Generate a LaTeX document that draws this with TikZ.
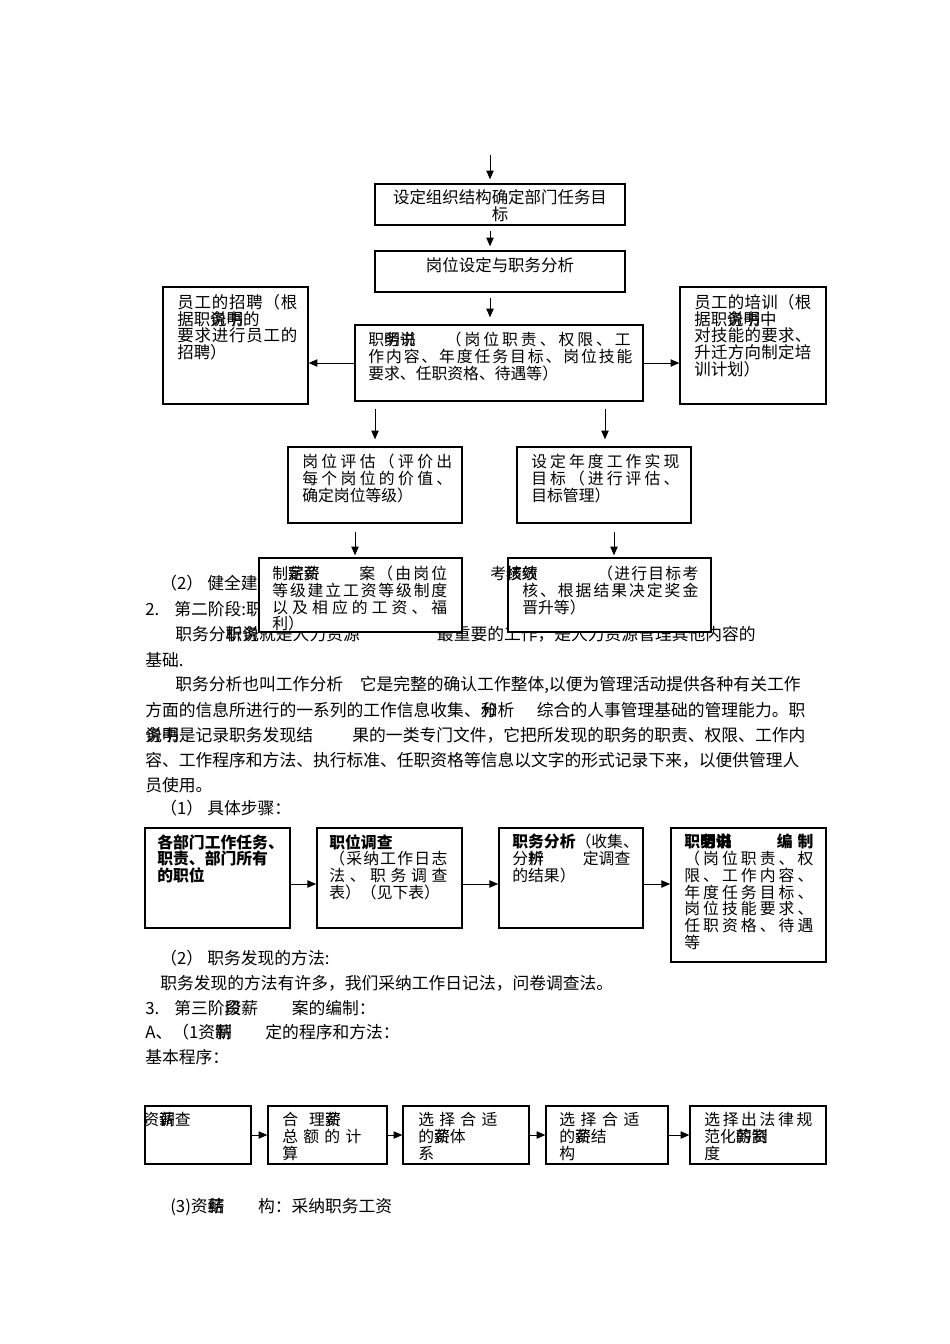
\documentclass[tikz,border=0pt]{standalone}
\usepackage{fontspec}
\setmainfont{Noto Sans CJK SC}
\usepackage{xcolor}
\usetikzlibrary{arrows.meta, calc}
\newlength{\px}
\setlength{\px}{0.626pt}
\newcommand{\ov}[2]{\makebox[0pt][l]{#1}#2}
\ExplSyntaxOn
\NewDocumentCommand{\jst}{mm}{\makebox[#1\px][s]{\tl_map_inline:nn{#2}{##1\hfil}\unskip}}
\ExplSyntaxOff
\newcommand{\bodyfont}{\fontsize{10.5}{15}\selectfont}
\newcommand{\boxfont}{\fontsize{9.9}{10.45}\selectfont}
\newcommand{\bigboxfont}{\fontsize{10.3}{10.45}\selectfont}

\begin{document}
\begin{tikzpicture}[x=0.626pt, y=-0.626pt,
    box/.style={draw, line width=0.8pt, fill=white, inner sep=0pt},
    stepbox/.style={draw, line width=1pt, fill=white, inner sep=0pt},
    boxtext/.style={anchor=north west, inner sep=0pt, align=left, font=\boxfont},
    bodytext/.style={anchor=west, inner sep=0pt, font=\bodyfont},
    arrow/.style={-{Triangle[length=5.5pt,width=4.6pt]}, line width=0.6pt}]
    \useasboundingbox (0,0) rectangle (950,1344);

    % Body text (drawn first, the boxes cover part of it)
    \node[bodytext] (t1) at (160,583) {（2）\hspace{0.25em}健全建立};
    \node[bodytext] (t2) at (145,609) {2.\hspace{0.9em}第二阶段:职};
    \node[bodytext] (t3) at (175,634) {职务分\ov{析}{职}\ov{务}{说}就是人力资源\hspace{4.6em}最重要的工作，是人力资源管理其他内容的};
    \node[bodytext] (t4) at (145,660) {基础.};
    \node[bodytext] (t5) at (175,685) {职务分析也叫工作分析\hspace{1em}它是完整的确认工作整体,以便为管理活动提供各种有关工作};
    \node[bodytext] (t6) at (145,710) {\makebox[660\px][s]{方面的信息所进行的一系列的工作信息收集、\ov{分}{和}析\hfil 综合的人事管理基础的管理能力。职}};
    \node[bodytext] (t7) at (145,735) {\makebox[660\px][s]{\ov{务}{说}\ov{明}{书}是记录职务发现结\hfil 果的一类专门文件，它把所发现的职务的职责、权限、工作内}};
    \node[bodytext] (t8) at (145,760) {容、工作程序和方法、执行标准、任职资格等信息以文字的形式记录下来，以便供管理人};
    \node[bodytext] (t9) at (145,785) {员使用。};
    \node[bodytext] (t10) at (160,808) {（1）\hspace{0.25em}具体步骤：};
    \node[bodytext] (t11) at (160,958) {（2）\hspace{0.25em}职务发现的方法:};
    \node[bodytext] (t12) at (160,983) {职务发现的方法有许多，我们采纳工作日记法，问卷调查法。};
    \node[bodytext] (t13) at (145,1008) {3.\hspace{0.9em}第三阶\ov{段}{资}薪\hspace{2em}案的编制：};
    \node[bodytext] (t14) at (145,1032) {A、（1资\ov{薪}{制}\hspace{2em}定的程序和方法：};
    \node[bodytext] (t15) at (145,1057) {基本程序：};
    \node[bodytext] (t16) at (170,1207) {(3)资\ov{薪}{结}\hspace{2em}构：采纳职务工资};

    % Organisation chart
    \node[box, minimum width=250\px, minimum height=41\px] (b1) at (500,204.5) {};
    \node[box, minimum width=250\px, minimum height=41\px] (b2) at (500,271.5) {};
    \node[box, minimum width=288\px, minimum height=76\px] (b3) at (499,363) {};
    \node[box, minimum width=145\px, minimum height=117\px] (bl) at (235.5,345.5) {};
    \node[box, minimum width=146\px, minimum height=117\px] (br) at (753,345.5) {};
    \node[box, minimum width=174\px, minimum height=76\px] (b4) at (375,485) {};
    \node[box, minimum width=174\px, minimum height=76\px] (b5) at (604,485) {};
    \node[box, minimum width=203\px, minimum height=74\px] (b6) at (360.5,595) {};
    \node[box, minimum width=203\px, minimum height=74\px] (b7) at (609.5,595) {};

    \node[inner sep=0pt, align=center, font=\bigboxfont] (b1t) at (500,206) {设定组织结构确定部门任务目\\标};
    \node[inner sep=0pt, font=\bigboxfont] (b2t) at (500,265) {岗位设定与职务分析};
    \node[boxtext] (b3t) at (368,332) {职\ov{务}{明}\ov{说}{书}\hspace{1.9em}\jst{185}{（岗位职责、权限、工}\\
        \jst{264}{作内容、年度任务目标、岗位技能}\\要求、任职资格、待遇等）};
    \node[boxtext, font=\bigboxfont] (blt) at (177,294) {\jst{120}{员工的招聘（根}\\据职\ov{务}{说}\ov{明}{书}的\\
        \jst{120}{要求进行员工的}\\招聘）};
    \node[boxtext, font=\bigboxfont] (brt) at (694,294) {\jst{117}{员工的培训（根}\\据职\ov{务}{说}\ov{明}{书}中\\
        \jst{117}{对技能的要求、}\\\jst{117}{升迁方向制定培}\\训计划）};
    \node[boxtext] (b4t) at (302,454) {\jst{150}{岗位评估（评价出}\\\jst{150}{每个岗位的价值、}\\确定岗位等级）};
    \node[boxtext] (b5t) at (531,454) {\jst{148}{设定年度工作实现}\\\jst{148}{目标（进行评估、}\\目标管理）};
    \node[boxtext] (b6t) at (272,566) {\makebox[87\px][l]{制\ov{定}{薪}\ov{薪}{资}}\jst{88}{案（由岗位}\\
        \jst{175}{等级建立工资等级制度}\\\jst{175}{以及相应的工资、福}\\利）};
    \node[boxtext] (b7t) at (522,566) {\hspace*{-32\px}\makebox[107\px][l]{考\ov{核}{绩}\ov{绩}{效}}\jst{101}{（进行目标考}\\
        \jst{176}{核、根据结果决定奖金}\\晋升等）};

    \coordinate (top) at (490,155);
    \draw[arrow] (top) -- ($(top |- b1.north)+(0,-4)$);
    \draw[arrow] ($(b1.south -| top)+(0,5)$) -- ($(b2.north -| top)+(0,-4)$);
    \draw[arrow] ($(b2.south -| top)+(0,5)$) -- ($(b3.north -| top)+(0,-7)$);
    \draw[arrow] (b3.west) -- (b3.west -| bl.east);
    \draw[arrow] (b3.east) -- (b3.east -| br.west);
    \draw[arrow] ($(b3.south -| b4.north)+(0,7)$) -- ($(b4.north)+(0,-7)$);
    \draw[arrow] ($(b3.south -| b5.north)+(1,7)$) -- ($(b5.north)+(1,-7)$);
    \draw[arrow] ($(b4.south)+(-20,8)$) -- ($(b4.south |- b6.north)+(-20,-2)$);
    \draw[arrow] ($(b5.south)+(10,8)$) -- ($(b5.south |- b7.north)+(10,-2)$);

    % Steps of job analysis
    \node[stepbox, minimum width=145\px, minimum height=100\px] (sA) at (217.5,878) {};
    \node[stepbox, minimum width=145\px, minimum height=100\px] (sB) at (389.5,878) {};
    \node[stepbox, minimum width=144\px, minimum height=100\px] (sC) at (571,878) {};
    \node[stepbox, minimum width=155\px, minimum height=134\px] (sD) at (748.5,895) {};

    \node[boxtext, font=\boxfont\bfseries] (sAt) at (157,834) {各部门工作任务、\\职责、部门所有\\的职位};
    \node[boxtext] (sBt) at (329,834) {\textbf{职位调查}\\\jst{118}{（采纳工作日志}\\\jst{118}{法、职务调查}\\表）（见下表）};
    \node[boxtext] (sCt) at (512,834) {\textbf{职务分析}（收集、\\\makebox[118\px][s]{分\ov{析}{辨}\hfil 定调查}\\的结果）};
    \node[boxtext] (sDt) at (684,834) {\makebox[129\px][s]{\textbf{职\ov{务}{明}\ov{说}{书}}\hfil\textbf{编\hspace{0.3em}制}}\\
        \jst{129}{（岗位职责、权}\\\jst{129}{限、工作内容、}\\\jst{129}{年度任务目标、}\\
        \jst{129}{岗位技能要求、}\\\jst{129}{任职资格、待遇}\\等};

    \draw[arrow] ($(sA.east)+(0,6)$) -- ($(sB.west)+(0,6)$);
    \draw[arrow] ($(sB.east)+(0,6)$) -- ($(sC.west)+(0,6)$);
    \draw[arrow] ($(sC.east)+(0,6)$) -- ($(sC.east -| sD.west)+(0,6)$);

    % Salary procedure
    \node[box, minimum width=106\px, minimum height=58\px] (p1) at (198,1135) {};
    \node[box, minimum width=119\px, minimum height=58\px] (p2) at (327.5,1135) {};
    \node[box, minimum width=126\px, minimum height=58\px] (p3) at (466,1135) {};
    \node[box, minimum width=122\px, minimum height=58\px] (p4) at (607,1135) {};
    \node[box, minimum width=136\px, minimum height=58\px] (p5) at (758,1135) {};

    \node[boxtext] (p1t) at (143,1112) {资\ov{调}{薪}查};
    \node[boxtext] (p2t) at (282,1112) {合\hspace{0.7em}理\ov{薪}{资}\\\jst{79}{总额的计}\\算};
    \node[boxtext] (p3t) at (418,1112) {\jst{79}{选择合适}\\的\ov{薪}{资}体\\系};
    \node[boxtext] (p4t) at (559,1112) {\jst{80}{选择合适}\\的\ov{薪}{资}结\\构};
    \node[boxtext] (p5t) at (704,1112) {\jst{108}{选择出法律规}\\范化\ov{的}{薪}\ov{资}{制}\\度};

    \draw[arrow] (p1) -- (p2);
    \draw[arrow] (p2) -- (p3);
    \draw[arrow] (p3) -- (p4);
    \draw[arrow] (p4) -- (p5);
\end{tikzpicture}
\end{document}
